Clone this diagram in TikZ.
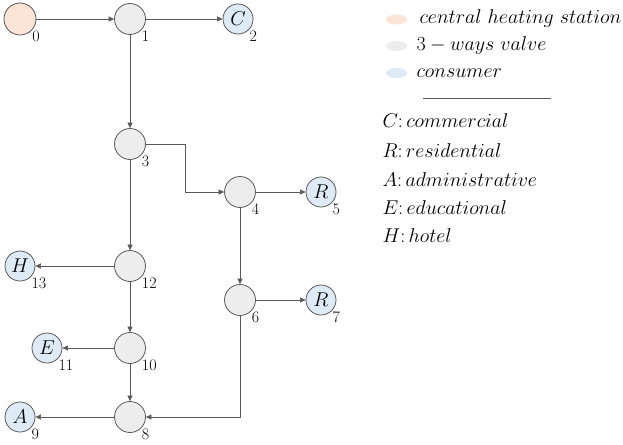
\RequirePackage{fix-cm}
\documentclass[tikz,border=0pt]{standalone}
\usepackage{tikz}
\usetikzlibrary{arrows.meta}
\definecolor{stationfill}{HTML}{FBE5D6}
\definecolor{valvefill}{HTML}{EDEDED}
\definecolor{consumerfill}{HTML}{DEEBF7}
\definecolor{linegray}{HTML}{595959}

\begin{document}
\begin{tikzpicture}[x=1pt, y=-1pt, >={Triangle[length=5.5pt,width=5pt]},
  every node/.style={font=\fontsize{20}{24}\selectfont},
  pipe/.style={draw=linegray, line width=0.6pt},
  num/.style={inner sep=0.5pt, font=\fontsize{16}{18}\selectfont},
  station/.style={shape=circle, draw=linegray, line width=0.8pt, fill=stationfill, minimum size=32pt, inner sep=0pt},
  valve/.style={shape=circle, draw=linegray, line width=0.8pt, fill=valvefill, minimum size=31pt, inner sep=0pt},
  consumer/.style={shape=circle, draw=linegray, line width=0.8pt, fill=consumerfill, minimum size=30pt, inner sep=0pt}]
\useasboundingbox (0,0) rectangle (623,444);

% network
\node [station, label={[num]south east:0}] (N0) at (20,19) {};
\node [valve, label={[num]south east:1}] (N1) at (130,19) {};
\node [consumer, label={[num]south east:2}] (N2) at (238,19) {$C$};
\node [valve, label={[num]south east:3}] (N3) at (130,144) {};
\node [valve, label={[num]south east:4}] (N4) at (240,192) {};
\node [consumer, label={[num]south east:5}] (N5) at (321,192) {$R$};
\node [valve, label={[num]south east:12}] (N12) at (130,266) {};
\node [consumer, label={[num]south east:13}] (N13) at (20,266) {$H$};
\node [valve, label={[num]south east:6}] (N6) at (240,300) {};
\node [consumer, label={[num]south east:7}] (N7) at (321,300) {$R$};
\node [valve, label={[num]south east:10}] (N10) at (130,348) {};
\node [consumer, label={[num]south east:11}] (N11) at (47,348) {$E$};
\node [valve, label={[num]south east:8}] (N8) at (130,417) {};
\node [consumer, label={[num]south east:9}] (N9) at (20,417) {$A$};

\draw[pipe, ->] (N0) -- (N1);
\draw[pipe, ->] (N1) -- (N2);
\draw[pipe, ->] (N1) -- (N3);
\draw[pipe, ->] (N3.east) -- ++(39.5,0) |- (N4.west);
\draw[pipe, ->] (N4) -- (N5);
\draw[pipe, ->] (N3) -- (N12);
\draw[pipe, ->] (N12) -- (N13);
\draw[pipe, ->] (N4) -- (N6);
\draw[pipe, ->] (N6) -- (N7);
\draw[pipe, ->] (N12) -- (N10);
\draw[pipe, ->] (N10) -- (N11);
\draw[pipe, ->] (N10) -- (N8);
\draw[pipe, ->] (N6.south) |- (N8.east);
\draw[pipe, ->] (N8) -- (N9);

% legend
\fill[stationfill] (396.5,19.5) ellipse (10.5 and 5);
\fill[valvefill] (396.5,46) ellipse (10.5 and 5);
\fill[consumerfill] (396.5,73) ellipse (10.5 and 5);
\node [anchor=west] (Lstation) at (416,19) {$central\ heating\ station$};
\node [anchor=west] (Lvalve) at (413,46) {$3-ways\ valve$};
\node [anchor=west] (Lconsumer) at (413,73) {$consumer$};
\draw[linegray, line width=0.6pt] (423,98) -- (551,98);
\node [anchor=west] (KC) at (379,121) {$C{:}\,commercial$};
\node [anchor=west] (KR) at (379,151) {$R{:}\,residential$};
\node [anchor=west] (KA) at (379,180) {$A{:}\,administrative$};
\node [anchor=west] (KE) at (379,208) {$E{:}\,educational$};
\node [anchor=west] (KH) at (379,236) {$H{:}\,hotel$};
\end{tikzpicture}
\end{document}
